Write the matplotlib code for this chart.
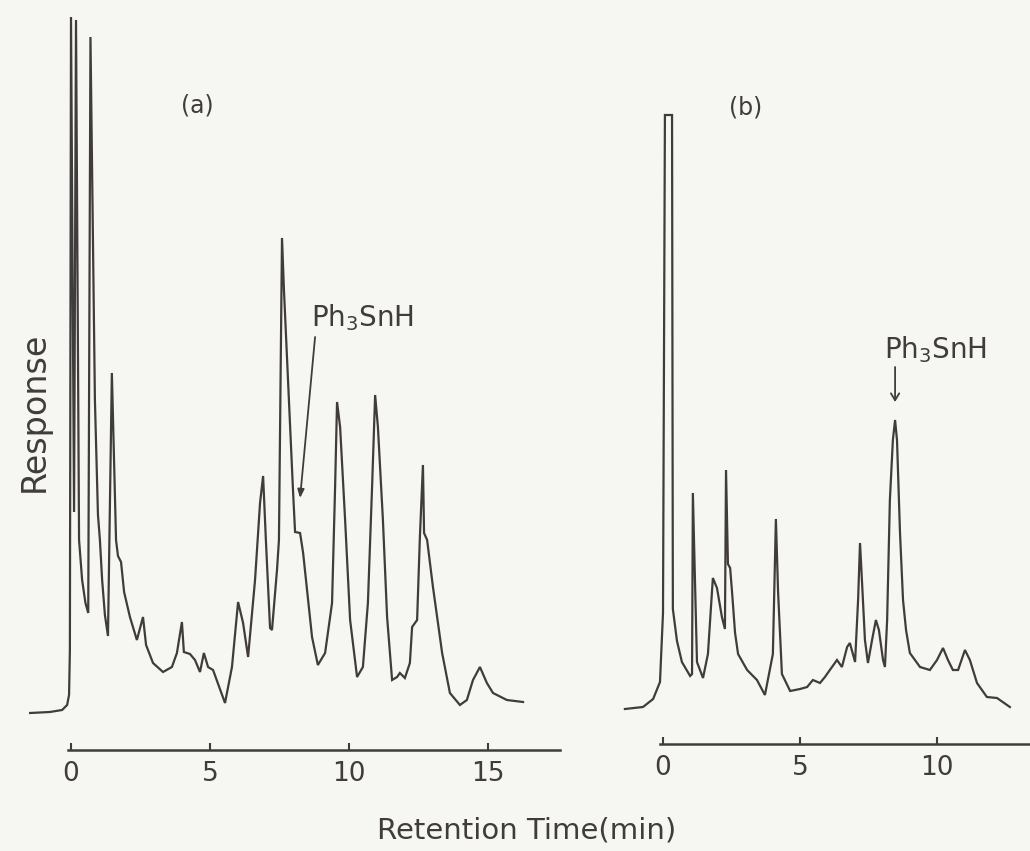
import matplotlib
matplotlib.use("Agg")
import matplotlib.pyplot as plt

# ---------------- data (retention time in min, detector response in arbitrary units) -------------
time_a = [-1.47, -0.76, -0.32, -0.14, -0.07, -0.04, 0.00, 0.11, 0.18, 0.29, 0.40, 0.52, 0.62,
          0.70, 0.86, 0.97, 1.04, 1.12, 1.22, 1.33, 1.47, 1.62, 1.69, 1.80, 1.91, 2.12, 2.37,
          2.59, 2.70, 2.95, 3.31, 3.63, 3.81, 3.99, 4.06, 4.28, 4.46, 4.64, 4.78, 4.93, 5.11,
          5.54, 5.79, 6.01, 6.19, 6.37, 6.62, 6.80, 6.91, 7.01, 7.16, 7.23, 7.41, 7.48, 7.59,
          7.66, 7.99, 8.06, 8.24, 8.35, 8.67, 8.88, 9.14, 9.39, 9.50, 9.57, 9.68, 9.86, 10.04,
          10.29, 10.50, 10.68, 10.83, 10.94, 11.04, 11.22, 11.37, 11.55, 11.73, 11.83, 12.01,
          12.19, 12.27, 12.45, 12.55, 12.66, 12.70, 12.81, 13.02, 13.35, 13.63, 13.99, 14.24,
          14.46, 14.71, 14.96, 15.18, 15.68, 16.26]
resp_a = [0, 1, 3, 8, 18, 63, 696, 201, 693, 173, 133, 110, 100,
          676, 313, 198, 173, 133, 98, 77, 340, 173, 157, 151, 121, 96, 73,
          96, 68, 50, 41, 46, 60, 91, 61, 59, 53, 41, 60, 46, 43,
          10, 46, 111, 90, 56, 133, 210, 237, 173, 85, 83, 143, 173, 475,
          423, 220, 181, 180, 160, 76, 48, 60, 110, 226, 311, 286, 193, 93,
          36, 46, 110, 226, 318, 286, 193, 96, 33, 36, 40, 35,
          50, 86, 93, 176, 248, 180, 173, 126, 60, 20, 8, 13,
          33, 46, 30, 20, 13, 11]

time_b = [-1.39, -0.73, -0.36, -0.11, 0.00, 0.07, 0.33, 0.36, 0.51, 0.69, 0.99, 1.06, 1.09,
          1.17, 1.24, 1.46, 1.64, 1.82, 1.97, 2.15, 2.26, 2.30, 2.37, 2.45, 2.52, 2.63, 2.74,
          3.07, 3.43, 3.72, 4.01, 4.12, 4.20, 4.34, 4.64, 5.00, 5.26, 5.47, 5.73, 5.91, 6.09,
          6.35, 6.53, 6.72, 6.82, 7.01, 7.12, 7.19, 7.26, 7.37, 7.48, 7.63, 7.77, 7.88, 8.03,
          8.10, 8.18, 8.28, 8.39, 8.47, 8.54, 8.65, 8.76, 8.87, 9.01, 9.38, 9.74, 10.00, 10.22,
          10.40, 10.58, 10.77, 11.02, 11.20, 11.46, 11.82, 12.19, 12.66]
resp_b = [-2, 0, 8, 25, 94, 592, 592, 98, 66, 45, 31, 33, 214,
          123, 45, 29, 53, 129, 119, 90, 78, 237, 143, 139, 115, 74, 53,
          37, 27, 12, 53, 188, 115, 33, 16, 18, 20, 27, 24, 30, 37,
          47, 40, 60, 64, 45, 107, 164, 127, 67, 44, 67, 87, 77, 47,
          40, 87, 207, 267, 287, 267, 174, 107, 77, 54, 40, 37, 47, 59,
          47, 37, 37, 57, 47, 24, 10, 9, 0]

ticks_a = [0, 5, 10, 15]
ticks_b = [0, 5, 10]
tick_labels_a = ["0", "5", "10", "15"]
tick_labels_b = ["0", "5", "10"]
panel_labels = ["(a)", "(b)"]
compound = "Ph$_3$SnH"
xlabel = "Retention Time(min)"
ylabel = "Response"

# ---------------- figure ----------------
W, H = 1030, 851
BG = "#f6f6f3"
INK = "#403c3c"
fig = plt.figure(figsize=(W / 100, H / 100), dpi=100, facecolor=BG)
plt.rcParams["font.family"] = ["DejaVu Sans"]
plt.rcParams["mathtext.fontset"] = "dejavusans"


def box(x0, y0, x1, y1):
    return [x0 / W, 1 - y1 / H, (x1 - x0) / W, (y1 - y0) / H]


def setup(ax, xlim, ylim, ticks, labels, bounds):
    ax.set_facecolor("none")
    ax.set_xlim(*xlim)
    ax.set_ylim(*ylim)
    for s in ("top", "right", "left"):
        ax.spines[s].set_visible(False)
    ax.spines["bottom"].set_position(("data", -37))
    ax.spines["bottom"].set_bounds(*bounds)
    ax.spines["bottom"].set_color(INK)
    ax.spines["bottom"].set_linewidth(1.8)
    ax.set_yticks([])
    ax.set_xticks(ticks)
    ax.set_xticklabels(labels)
    ax.tick_params(axis="x", direction="in", length=5, width=1.5, color=INK,
                   labelsize=19, labelcolor=INK, pad=8)


ax_a = fig.add_axes(box(20, 0, 565, 790))
setup(ax_a, ((20 - 71) / 27.8, (565 - 71) / 27.8), (-77, 713), ticks_a, tick_labels_a,
      (-0.1, (560 - 71) / 27.8))
ax_a.plot(time_a, resp_a, color=INK, lw=1.6, solid_joinstyle="miter")

ax_b = fig.add_axes(box(600, 0, 1030, 790))
setup(ax_b, ((600 - 663) / 27.4, (1030 - 663) / 27.4), (-83, 707), ticks_b, tick_labels_b,
      (-0.11, (1030 - 663) / 27.4))
ax_b.plot(time_b, resp_b, color=INK, lw=1.6, solid_joinstyle="miter")

# annotations
ax_a.annotate("", xy=(8.24, 215), xytext=(8.78, 376),
              arrowprops=dict(arrowstyle="-|>,head_length=0.5,head_width=0.2",
                              color=INK, lw=1.3, shrinkA=0, shrinkB=0))
ax_a.text(10.47, 395, compound, ha="center", va="center", fontsize=20, color=INK)

ax_b.annotate("", xy=(8.47, 305), xytext=(8.47, 340),
              arrowprops=dict(arrowstyle="->,head_length=0.5,head_width=0.3",
                              color=INK, lw=1.3, shrinkA=0, shrinkB=0))
ax_b.text(9.96, 357, compound, ha="center", va="center", fontsize=20, color=INK)

fig.text(197 / W, 1 - 105 / H, panel_labels[0], ha="center", va="center", fontsize=17, color=INK)
fig.text(746 / W, 1 - 107 / H, panel_labels[1], ha="center", va="center", fontsize=17, color=INK)

fig.text(527 / W, 1 - 830 / H, xlabel, ha="center", va="center", fontsize=21, color=INK)
fig.text(34 / W, 1 - 412 / H, ylabel, ha="center", va="center", rotation=90, fontsize=24, color=INK)

fig.savefig("out.png", dpi=100, facecolor=BG)
